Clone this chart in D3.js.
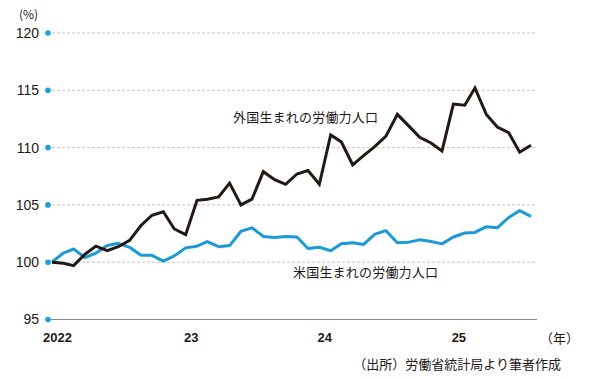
<!DOCTYPE html>
<html>
<head>
<meta charset="utf-8">
<script src="https://cdn.jsdelivr.net/npm/d3@7"></script>
<style>
  body { margin: 0; background: #fff; }
  svg text { font-family: "Noto Sans CJK JP", "Liberation Sans", sans-serif; fill: #231815; }
  .axis-y text, .axis-x text { font-family: "Liberation Sans", "Noto Sans", sans-serif; }
</style>
</head>
<body>
<div id="chart"></div>
<script>
// Monthly labour force index, Jan 2022 = 100
const startMonth = new Date(2022, 0, 1);
const foreignBorn = [
  100.0, 99.9, 99.7, 100.7, 101.4, 101.0, 101.35, 101.9, 103.2, 104.1, 104.4, 102.9,
  102.4, 105.4, 105.5, 105.7, 106.9, 105.0, 105.5, 107.9, 107.2, 106.8, 107.7, 108.0,
  106.8, 111.1, 110.5, 108.5, 109.3, 110.1, 111.0, 112.9, 111.9, 110.9, 110.4, 109.7,
  113.8, 113.7, 115.2, 112.9, 111.8, 111.3, 109.6, 110.2
];
const nativeBorn = [
  100.0, 100.8, 101.15, 100.4, 100.8, 101.45, 101.65, 101.3, 100.6, 100.6, 100.1, 100.55,
  101.25, 101.4, 101.8, 101.35, 101.45, 102.7, 103.0, 102.25, 102.15, 102.25, 102.2, 101.2,
  101.3, 101.0, 101.6, 101.7, 101.55, 102.45, 102.75, 101.7, 101.75, 101.95, 101.8, 101.6,
  102.2, 102.55, 102.6, 103.1, 103.0, 103.9, 104.5, 104.0
];
const yTicks = [95, 100, 105, 110, 115, 120];
const xTickYears = [2022, 2023, 2024, 2025];
const xTickLabels = ["2022", "23", "24", "25"];
const foreignLabel = "外国生まれの労働力人口";
const nativeLabel = "米国生まれの労働力人口";
const sourceNote = "（出所）労働省統計局より筆者作成";

const width = 600;
const height = 379;

const monthDate = i => new Date(2022, i, 1);

const svg = d3.select("#chart")
  .append("svg")
    .attr("width", width)
    .attr("height", height);

// scales
const xScale = d3.scaleTime()
  .domain([startMonth, monthDate(foreignBorn.length - 1)])
  .range([52, 531]);
const yScale = d3.scaleLinear()
  .domain([95, 120])
  .range([319.5, 33]);

// gridlines
svg.append("g")
  .selectAll("line")
  .data(yTicks.filter(d => d > 95))
  .join("line")
    .attr("x1", 52)
    .attr("x2", 537)
    .attr("y1", d => yScale(d))
    .attr("y2", d => yScale(d))
    .attr("stroke", "#c4c4c4")
    .attr("stroke-width", 1)
    .attr("stroke-dasharray", "3,2");

// baseline
svg.append("line")
  .attr("x1", 48)
  .attr("x2", 537)
  .attr("y1", yScale(95))
  .attr("y2", yScale(95))
  .attr("stroke", "#8a8a8a")
  .attr("stroke-width", 1);

// left axis
const leftAxis = d3.axisLeft(yScale)
  .tickValues(yTicks)
  .tickSize(0)
  .tickPadding(9);
svg.append("g")
  .attr("class", "axis-y")
  .attr("transform", "translate(48, 0)")
  .call(leftAxis)
  .call(g => g.select(".domain").remove())
  .call(g => g.selectAll("text")
    .attr("font-size", 14)
    .attr("fill", "#231815"));

svg.append("g")
  .selectAll("circle")
  .data(yTicks)
  .join("circle")
    .attr("cx", 48)
    .attr("cy", d => yScale(d))
    .attr("r", 2.8)
    .attr("fill", "#1aa0e0");

svg.append("text")
  .attr("x", 19)
  .attr("y", 19)
  .attr("font-size", 12)
  .text("(%)");

// bottom axis
const bottomAxis = d3.axisBottom(xScale)
  .tickValues(xTickYears.map(y => new Date(y, 0, 1)))
  .tickFormat((d, i) => xTickLabels[i])
  .tickSize(0)
  .tickPadding(13);
svg.append("g")
  .attr("class", "axis-x")
  .attr("transform", `translate(0, ${yScale(95)})`)
  .call(bottomAxis)
  .call(g => g.select(".domain").remove())
  .call(g => g.selectAll("text")
    .attr("x", 5)
    .attr("font-size", 13)
    .attr("font-weight", "bold")
    .attr("fill", "#231815"));

svg.append("text")
  .attr("x", 540)
  .attr("y", 343)
  .attr("font-size", 13)
  .text("（年）");

// lines
const line = d3.line()
  .x((d, i) => xScale(monthDate(i)))
  .y(d => yScale(d));

svg.append("path")
  .datum(nativeBorn)
  .attr("d", line)
  .attr("fill", "none")
  .attr("stroke", "#1b9ad8")
  .attr("stroke-width", 3)
  .attr("stroke-linejoin", "round");

svg.append("path")
  .datum(foreignBorn)
  .attr("d", line)
  .attr("fill", "none")
  .attr("stroke", "#231815")
  .attr("stroke-width", 3)
  .attr("stroke-linejoin", "miter");

// series labels
svg.append("text")
  .attr("x", 233)
  .attr("y", 121.5)
  .attr("font-size", 13)
  .attr("letter-spacing", 0.2)
  .text(foreignLabel);

svg.append("text")
  .attr("x", 293)
  .attr("y", 276.5)
  .attr("font-size", 13)
  .attr("letter-spacing", 0.2)
  .text(nativeLabel);

svg.append("text")
  .attr("x", 561)
  .attr("y", 369)
  .attr("font-size", 13)
  .attr("text-anchor", "end")
  .text(sourceNote);
</script>
</body>
</html>
